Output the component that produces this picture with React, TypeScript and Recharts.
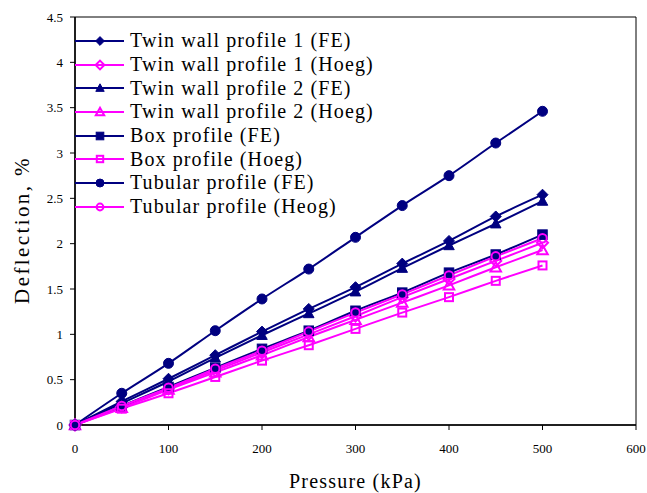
import React from 'react';
import { LineChart, Line, XAxis, YAxis, Legend, ReferenceArea, Label } from 'recharts';

const pressures = [0, 50, 100, 150, 200, 250, 300, 350, 400, 450, 500];
const twin1FE = [0, 0.26, 0.51, 0.77, 1.03, 1.28, 1.52, 1.78, 2.03, 2.30, 2.54];
const twin1Hoeg = [0, 0.20, 0.40, 0.60, 0.80, 1.00, 1.20, 1.41, 1.61, 1.81, 2.01];
const twin2FE = [0, 0.24, 0.48, 0.74, 0.99, 1.23, 1.47, 1.73, 1.98, 2.22, 2.47];
const twin2Hoeg = [0, 0.19, 0.39, 0.58, 0.77, 0.97, 1.16, 1.35, 1.54, 1.74, 1.93];
const boxFE = [0, 0.21, 0.42, 0.63, 0.84, 1.04, 1.26, 1.46, 1.68, 1.88, 2.10];
const boxHoeg = [0, 0.18, 0.35, 0.53, 0.71, 0.88, 1.06, 1.24, 1.41, 1.59, 1.76];
const tubFE = [0, 0.35, 0.68, 1.04, 1.39, 1.72, 2.07, 2.42, 2.75, 3.11, 3.46];
const tubHoeg = [0, 0.21, 0.41, 0.62, 0.82, 1.03, 1.24, 1.44, 1.65, 1.86, 2.06];

const xTicks = [0, 100, 200, 300, 400, 500, 600];
const yTicks = [0, 0.5, 1, 1.5, 2, 2.5, 3, 3.5, 4, 4.5];

const NAVY = '#000080';
const MAG = '#FF00FF';

type Shape = 'diamond' | 'triangle' | 'square' | 'circle';
interface SeriesDef { key: string; name: string; values: number[]; color: string; shape: Shape; filled: boolean; }

const series: SeriesDef[] = [
  { key: 't1fe', name: 'Twin wall profile 1 (FE)', values: twin1FE, color: NAVY, shape: 'diamond', filled: true },
  { key: 't1h', name: 'Twin wall profile 1 (Hoeg)', values: twin1Hoeg, color: MAG, shape: 'diamond', filled: false },
  { key: 't2fe', name: 'Twin wall profile 2 (FE)', values: twin2FE, color: NAVY, shape: 'triangle', filled: true },
  { key: 't2h', name: 'Twin wall profile 2 (Hoeg)', values: twin2Hoeg, color: MAG, shape: 'triangle', filled: false },
  { key: 'bfe', name: 'Box profile (FE)', values: boxFE, color: NAVY, shape: 'square', filled: true },
  { key: 'bh', name: 'Box profile (Hoeg)', values: boxHoeg, color: MAG, shape: 'square', filled: false },
  { key: 'tfe', name: 'Tubular profile (FE)', values: tubFE, color: NAVY, shape: 'circle', filled: true },
  { key: 'th', name: 'Tubular profile (Heog)', values: tubHoeg, color: MAG, shape: 'circle', filled: false },
];

const data = pressures.map((p, i) => {
  const row: Record<string, number> = { p };
  series.forEach((s) => { row[s.key] = s.values[i]; });
  return row;
});

function Marker({ shape, filled, color, cx, cy, s }: { shape: Shape; filled: boolean; color: string; cx: number; cy: number; s: number }) {
  const fill = filled ? color : 'none';
  const sw = filled ? 1 : 2;
  if (shape === 'diamond') {
    const d = s * 1.1;
    return <polygon points={`${cx},${cy - d} ${cx + d},${cy} ${cx},${cy + d} ${cx - d},${cy}`} fill={fill} stroke={color} strokeWidth={sw} />;
  }
  if (shape === 'triangle') {
    const d = s * 1.05;
    return <polygon points={`${cx},${cy - d} ${cx + d},${cy + d * 0.8} ${cx - d},${cy + d * 0.8}`} fill={fill} stroke={color} strokeWidth={sw} />;
  }
  if (shape === 'square') {
    const d = filled ? s * 0.95 : s * 0.8;
    return <rect x={cx - d} y={cy - d} width={d * 2} height={d * 2} fill={fill} stroke={color} strokeWidth={sw} />;
  }
  const r = filled ? s : s * 0.85;
  return <circle cx={cx} cy={cy} r={r} fill={fill} stroke={color} strokeWidth={sw} />;
}

const serif = '"Liberation Serif", "Times New Roman", serif';

function LegendContent() {
  return (
    <div style={{ fontFamily: serif, fontSize: 20, color: '#000' }}>
      {series.map((s) => (
        <div key={s.key} style={{ display: 'flex', alignItems: 'center', height: 23.7, whiteSpace: 'nowrap' }}>
          <svg width={55} height={20} style={{ flex: 'none' }}>
            <line x1={0} y1={10} x2={49} y2={10} stroke={s.color} strokeWidth={2} />
            <Marker shape={s.shape} filled={s.filled} color={s.color} cx={25} cy={10} s={4} />
          </svg>
          <span style={{ letterSpacing: 1.1 }}>{s.name}</span>
        </div>
      ))}
    </div>
  );
}

const YTitle = () => {
  const cx = 29;
  const cy = 230;
  return (
    <text x={cx} y={cy} transform={`rotate(-90, ${cx}, ${cy})`} textAnchor="middle" fontFamily={serif} fontSize={21} letterSpacing={2.4} fill="#000">
      Deflection, %
    </text>
  );
};

export default function App() {
  return (
    <div style={{ position: 'absolute', left: 0, top: 0, width: 647, height: 493, background: '#fff', fontFamily: serif }}>
      <LineChart width={647} height={493} data={data} margin={{ top: 17, right: 11, bottom: 0, left: 0 }}>
        <XAxis
          dataKey="p"
          type="number"
          domain={[0, 600]}
          ticks={xTicks}
          height={68}
          tickSize={5}
          tickMargin={14}
          axisLine={{ stroke: '#000', strokeWidth: 1.5 }}
          tickLine={{ stroke: '#000' }}
          tick={{ fill: '#000', fontFamily: serif, fontSize: 13 }}
        >
          <Label value="Pressure (kPa)" position="insideBottom" offset={5} style={{ fill: '#000', fontFamily: serif, fontSize: 20, letterSpacing: 1.2 }} />
        </XAxis>
        <YAxis
          type="number"
          domain={[0, 4.5]}
          ticks={yTicks}
          width={75}
          tickSize={5}
          tickMargin={7}
          axisLine={{ stroke: '#000', strokeWidth: 1.5 }}
          tickLine={{ stroke: '#000' }}
          tick={{ fill: '#000', fontFamily: serif, fontSize: 13 }}
        >
          <Label content={<YTitle />} />
        </YAxis>
        <ReferenceArea x1={0} x2={600} y1={0} y2={4.5} fill="none" stroke="#000" strokeWidth={1} ifOverflow="visible" />
        <Legend
          layout="vertical"
          align="center"
          verticalAlign="middle"
          content={<LegendContent />}
          wrapperStyle={{ left: 75, top: 29, width: 'auto', height: 'auto' }}
        />
        {series.map((s) => (
          <Line
            key={s.key}
            dataKey={s.key}
            name={s.name}
            type="monotone"
            stroke={s.color}
            strokeWidth={2}
            isAnimationActive={false}
            dot={(p: any) => <Marker key={`${s.key}-${p.index}`} shape={s.shape} filled={s.filled} color={s.color} cx={p.cx} cy={p.cy} s={5} />}
            activeDot={false}
          />
        ))}
      </LineChart>
    </div>
  );
}
